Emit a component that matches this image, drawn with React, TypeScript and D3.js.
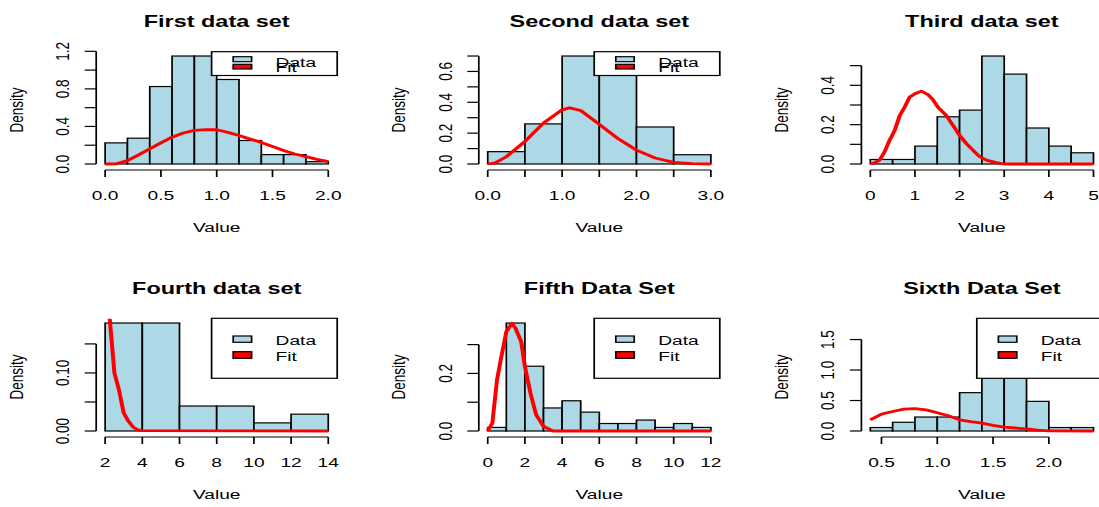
import React from "react";
import * as d3 from "d3";

// Horizontal stretch of the original picture
const S = 1.42;
const X = (px: number) => px / S;

// ---------- DATA ----------
const titles = [
  "First data set",
  "Second data set",
  "Third data set",
  "Fourth data set",
  "Fifth Data Set",
  "Sixth Data Set",
];

const breaks1 = [0, 0.2, 0.4, 0.6, 0.8, 1.0, 1.2, 1.4, 1.6, 1.8, 2.0];
const density1 = [0.225, 0.275, 0.825, 1.15, 1.15, 0.9, 0.25, 0.1, 0.1, 0.025];
const fitX1 = [0, 0.1, 0.2, 0.3, 0.4, 0.5, 0.6, 0.7, 0.8, 0.9, 1.0, 1.1, 1.2, 1.3, 1.4, 1.5, 1.6, 1.7, 1.8, 1.9, 2.0];
const fitY1 = [0, 0.002, 0.036, 0.097, 0.16, 0.225, 0.286, 0.33, 0.358, 0.365, 0.365, 0.337, 0.304, 0.265, 0.23, 0.186, 0.143, 0.107, 0.079, 0.05, 0.025];

const breaks2 = [0, 0.5, 1.0, 1.5, 2.0, 2.5, 3.0];
const density2 = [0.08, 0.26, 0.7, 0.66, 0.24, 0.06];
const fitX2 = [0, 0.1, 0.25, 0.5, 0.75, 1.0, 1.1, 1.25, 1.5, 1.75, 2.0, 2.25, 2.5, 2.75, 3.0];
const fitY2 = [0, 0.008, 0.047, 0.146, 0.266, 0.351, 0.364, 0.347, 0.257, 0.165, 0.09, 0.039, 0.011, 0.002, 0];

const breaks3 = [0, 0.5, 1.0, 1.5, 2.0, 2.5, 3.0, 3.5, 4.0, 4.5, 5.0];
const density3 = [0.023, 0.023, 0.091, 0.24, 0.274, 0.549, 0.457, 0.183, 0.091, 0.057];
const fitX3 = [0, 0.07, 0.21, 0.32, 0.43, 0.545, 0.66, 0.77, 0.88, 1.0, 1.14, 1.29, 1.4, 1.51, 1.7, 1.85, 2.0, 2.15, 2.3, 2.45, 2.6, 2.82, 3.0, 5.0];
const fitY3 = [0, 0.004, 0.02, 0.062, 0.12, 0.17, 0.247, 0.29, 0.34, 0.357, 0.37, 0.353, 0.328, 0.29, 0.247, 0.197, 0.146, 0.104, 0.07, 0.037, 0.02, 0.007, 0, 0];

const breaks4 = [2, 4, 6, 8, 10, 12, 14];
const density4 = [0.186, 0.186, 0.043, 0.043, 0.014, 0.029];
const fitX4 = [2.0, 2.23, 2.5, 2.75, 3.0, 3.25, 3.5, 3.75, 4.0, 14];
const fitY4 = [0.4, 0.2, 0.1, 0.07, 0.031, 0.017, 0.007, 0.002, 0.0005, 0];

const breaks5 = [0, 1, 2, 3, 4, 5, 6, 7, 8, 9, 10, 11, 12];
const density5 = [0.0125, 0.375, 0.225, 0.08, 0.105, 0.0655, 0.026, 0.026, 0.038, 0.0125, 0.026, 0.0125];
const fitX5 = [0, 0.25, 0.5, 0.7, 1.0, 1.3, 1.5, 1.8, 2.0, 2.3, 2.6, 3.0, 3.5, 12];
const fitY5 = [0, 0.028, 0.178, 0.247, 0.345, 0.374, 0.356, 0.31, 0.224, 0.131, 0.057, 0.016, 0, 0];

const breaks6 = [0.4, 0.6, 0.8, 1.0, 1.2, 1.4, 1.6, 1.8, 2.0, 2.2, 2.4];
const density6 = [0.057, 0.143, 0.229, 0.229, 0.629, 1.343, 1.771, 0.486, 0.057, 0.057];
const fitX6 = [0.4, 0.5, 0.6, 0.7, 0.8, 0.9, 1.0, 1.1, 1.2, 1.3, 1.4, 1.5, 1.6, 1.7, 1.8, 1.9, 2.0, 2.4];
const fitY6 = [0.184, 0.276, 0.32, 0.358, 0.368, 0.347, 0.3, 0.25, 0.184, 0.152, 0.13, 0.092, 0.065, 0.049, 0.033, 0.016, 0.003, 0];

const xTicks1 = [0, 0.5, 1.0, 1.5, 2.0];
const xLabels1 = ["0.0", "0.5", "1.0", "1.5", "2.0"];
const yTicks1 = [0, 0.2, 0.4, 0.6, 0.8, 1.0, 1.2];
const yLabels1 = ["0.0", "", "0.4", "", "0.8", "", "1.2"];

const xTicks2 = [0, 0.5, 1.0, 1.5, 2.0, 2.5, 3.0];
const xLabels2 = ["0.0", "", "1.0", "", "2.0", "", "3.0"];
const yTicks2 = [0, 0.1, 0.2, 0.3, 0.4, 0.5, 0.6, 0.7];
const yLabels2 = ["0.0", "", "0.2", "", "0.4", "", "0.6", ""];

const xTicks3 = [0, 1, 2, 3, 4, 5];
const xLabels3 = ["0", "1", "2", "3", "4", "5"];
const yTicks3 = [0, 0.1, 0.2, 0.3, 0.4, 0.5];
const yLabels3 = ["0.0", "", "0.2", "", "0.4", ""];

const xTicks4 = [2, 4, 6, 8, 10, 12, 14];
const xLabels4 = ["2", "4", "6", "8", "10", "12", "14"];
const yTicks4 = [0, 0.05, 0.1, 0.15];
const yLabels4 = ["0.00", "", "0.10", ""];

const xTicks5 = [0, 2, 4, 6, 8, 10, 12];
const xLabels5 = ["0", "2", "4", "6", "8", "10", "12"];
const yTicks5 = [0, 0.1, 0.2, 0.3];
const yLabels5 = ["0.0", "", "0.2", ""];

const xTicks6 = [0.5, 1.0, 1.5, 2.0];
const xLabels6 = ["0.5", "1.0", "1.5", "2.0"];
const yTicks6 = [0, 0.5, 1.0, 1.5];
const yLabels6 = ["0.0", "0.5", "1.0", "1.5"];

const legendLabels = ["Data", "Fit"];
const xLabel = "Value";
const yLabel = "Density";

// ---------- LAYOUT ----------
const COL_LEFT = [96.2, 478.8, 861.4];
const ROW_DY = [0, 267];
const PLOT_W = 241;
const FONT = "'Liberation Sans', Arial, Helvetica, sans-serif";
const FS = 13.5;
const FS_TITLE = 16.5;
const BAR_FILL = "#ADD8E6";

type PanelCfg = {
  title: string;
  breaks: number[];
  density: number[];
  fitX: number[];
  fitY: number[];
  xTicks: number[];
  xLabels: string[];
  yTicks: number[];
  yLabels: string[];
  legend: "none" | "squished" | "normal";
  row: number;
  col: number;
};

const panels: PanelCfg[] = [
  { title: titles[0], breaks: breaks1, density: density1, fitX: fitX1, fitY: fitY1, xTicks: xTicks1, xLabels: xLabels1, yTicks: yTicks1, yLabels: yLabels1, legend: "squished", row: 0, col: 0 },
  { title: titles[1], breaks: breaks2, density: density2, fitX: fitX2, fitY: fitY2, xTicks: xTicks2, xLabels: xLabels2, yTicks: yTicks2, yLabels: yLabels2, legend: "squished", row: 0, col: 1 },
  { title: titles[2], breaks: breaks3, density: density3, fitX: fitX3, fitY: fitY3, xTicks: xTicks3, xLabels: xLabels3, yTicks: yTicks3, yLabels: yLabels3, legend: "none", row: 0, col: 2 },
  { title: titles[3], breaks: breaks4, density: density4, fitX: fitX4, fitY: fitY4, xTicks: xTicks4, xLabels: xLabels4, yTicks: yTicks4, yLabels: yLabels4, legend: "normal", row: 1, col: 0 },
  { title: titles[4], breaks: breaks5, density: density5, fitX: fitX5, fitY: fitY5, xTicks: xTicks5, xLabels: xLabels5, yTicks: yTicks5, yLabels: yLabels5, legend: "normal", row: 1, col: 1 },
  { title: titles[5], breaks: breaks6, density: density6, fitX: fitX6, fitY: fitY6, xTicks: xTicks6, xLabels: xLabels6, yTicks: yTicks6, yLabels: yLabels6, legend: "normal", row: 1, col: 2 },
];

function Panel({ p, idx }: { p: PanelCfg; idx: number }) {
  const L = COL_LEFT[p.col];
  const dy = ROW_DY[p.row];
  const R = L + PLOT_W;
  const xmin = p.breaks[0];
  const xmax = p.breaks[p.breaks.length - 1];
  const x = d3
    .scaleLinear()
    .domain([xmin, xmax])
    .range([X(L + (PLOT_W * 0.04) / 1.08), X(L + (PLOT_W * 1.04) / 1.08)]);
  const M = d3.max(p.density) as number;
  const y0 = 164 + dy;
  const top = 51.7 + dy;
  const k = (y0 - top) / (1.04 * M);
  const y = d3.scaleLinear().domain([0, M]).range([y0, y0 - M * k]);
  const bottom = y0 + 0.04 * M * k;
  const axisY = 170 + dy;

  const line = d3
    .line<number>()
    .x((d, i) => x(p.fitX[i]))
    .y((d) => y(d));

  const clipId = `clip${idx}`;
  const legL = R - 125.6;
  const centerX = X(L + PLOT_W / 2);

  const sq = p.legend === "squished";
  const leg = sq
    ? { top: 51.7, bot: 75.5, s1: [56.7, 61.7], s2: [64.3, 69], t1: 66.7, t2: 72.3 }
    : { top: 51.3, bot: 111.3, s1: [69, 75.3], s2: [84.7, 91.3], t1: 78.3, t2: 94 };

  return (
    <g>
      <defs>
        <clipPath id={clipId}>
          <rect x={X(L)} y={top} width={X(PLOT_W)} height={bottom - top} />
        </clipPath>
      </defs>
      {/* bars */}
      <g clipPath={`url(#${clipId})`}>
        {p.density.map((d, i) => (
          <rect
            key={i}
            x={x(p.breaks[i])}
            y={y(d)}
            width={x(p.breaks[i + 1]) - x(p.breaks[i])}
            height={y(0) - y(d)}
            fill={BAR_FILL}
            stroke="#000"
            strokeWidth={1.2}
          />
        ))}
        <path d={line(p.fitY) || ""} fill="none" stroke="#FF0000" strokeWidth={2.8} strokeLinejoin="round" />
      </g>
      {/* x axis */}
      <line
        x1={x(p.xTicks[0])}
        x2={x(p.xTicks[p.xTicks.length - 1])}
        y1={axisY}
        y2={axisY}
        stroke="#000"
        strokeWidth={1.2}
      />
      {p.xTicks.map((t, i) => (
        <g key={"xt" + i}>
          <line x1={x(t)} x2={x(t)} y1={axisY} y2={axisY + 7} stroke="#000" strokeWidth={1.2} />
          {p.xLabels[i] !== "" && (
            <text x={x(t)} y={200 + dy} textAnchor="middle" fontFamily={FONT} fontSize={FS} fill="#000">
              {p.xLabels[i]}
            </text>
          )}
        </g>
      ))}
      {/* y axis */}
      <line
        x1={X(L)}
        x2={X(L)}
        y1={y(p.yTicks[0])}
        y2={y(p.yTicks[p.yTicks.length - 1])}
        stroke="#000"
        strokeWidth={1.2}
      />
      {p.yTicks.map((t, i) => (
        <g key={"yt" + i}>
          <line x1={X(L)} x2={X(L - 11.5)} y1={y(t)} y2={y(t)} stroke="#000" strokeWidth={1.2} />
          {p.yLabels[i] !== "" && (
            <text
              transform={`translate(${X(L - 27)},${y(t)}) rotate(-90)`}
              textAnchor="middle"
              fontFamily={FONT}
              fontSize={FS}
              fill="#000"
            >
              {p.yLabels[i]}
            </text>
          )}
        </g>
      ))}
      {/* labels */}
      <text x={centerX} y={27 + dy} textAnchor="middle" fontFamily={FONT} fontSize={FS_TITLE} fontWeight="bold" fill="#000">
        {p.title}
      </text>
      <text x={centerX} y={232 + dy} textAnchor="middle" fontFamily={FONT} fontSize={FS} fill="#000">
        {xLabel}
      </text>
      <text
        transform={`translate(${X(L - 73.5)},${(top + bottom) / 2}) rotate(-90)`}
        textAnchor="middle"
        fontFamily={FONT}
        fontSize={FS}
        fill="#000"
      >
        {yLabel}
      </text>
      {/* legend */}
      {p.legend !== "none" && (
        <g>
          <rect
            x={X(legL)}
            y={leg.top + dy}
            width={X(125.6)}
            height={leg.bot - leg.top}
            fill="#fff"
            stroke="#000"
            strokeWidth={1.2}
          />
          <rect
            x={X(legL + 21.6)}
            y={leg.s1[0] + dy}
            width={X(18.4)}
            height={leg.s1[1] - leg.s1[0]}
            fill={BAR_FILL}
            stroke="#000"
            strokeWidth={1.2}
          />
          <rect
            x={X(legL + 21.6)}
            y={leg.s2[0] + dy}
            width={X(18.4)}
            height={leg.s2[1] - leg.s2[0]}
            fill="#FF0000"
            stroke="#000"
            strokeWidth={1.2}
          />
          <text x={X(legL + 64)} y={leg.t1 + dy} fontFamily={FONT} fontSize={FS} fill="#000">
            {legendLabels[0]}
          </text>
          <text x={X(legL + 64)} y={leg.t2 + dy} fontFamily={FONT} fontSize={FS} fill="#000">
            {legendLabels[1]}
          </text>
        </g>
      )}
    </g>
  );
}

export default function App() {
  return (
    <svg
      width={1099}
      height={507}
      style={{ position: "absolute", left: 0, top: 0, background: "#fff" }}
    >
      <rect x={0} y={0} width={1099} height={507} fill="#fff" />
      <g transform={`scale(${S},1)`}>
        {panels.map((p, i) => (
          <Panel key={i} p={p} idx={i} />
        ))}
      </g>
    </svg>
  );
}
